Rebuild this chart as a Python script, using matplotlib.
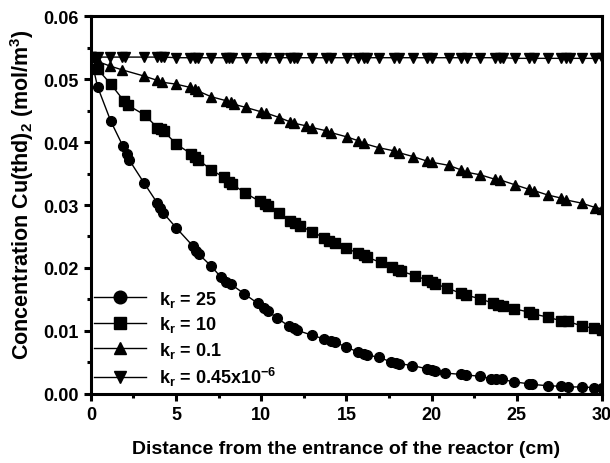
import matplotlib
matplotlib.use('Agg')
import matplotlib.pyplot as plt
from matplotlib.ticker import MultipleLocator

plt.rcParams['font.family'] = ['Liberation Sans', 'DejaVu Sans']
plt.rcParams['font.weight'] = 'bold'
plt.rcParams['mathtext.fontset'] = 'custom'
plt.rcParams['mathtext.rm'] = 'Liberation Sans:bold'
plt.rcParams['mathtext.it'] = 'Liberation Sans:bold'
plt.rcParams['mathtext.bf'] = 'Liberation Sans:bold'
plt.rcParams['mathtext.default'] = 'rm'

# k_r = 25
x_25 = [0, 0.39, 1.17, 1.89, 2.09, 2.24, 3.12, 3.9, 4.04, 4.23, 5.0, 5.98, 6.18, 6.33,
        7.06, 7.64, 7.94, 8.23, 9.0, 9.78, 10.18, 10.37, 10.9, 11.6, 11.9, 12.1, 13.0,
        13.7, 14.1, 14.3, 14.95, 15.7, 16.0, 16.2, 16.9, 17.6, 17.9, 18.1, 18.85, 19.7,
        20.0, 20.2, 20.8, 21.7, 22.0, 22.85, 23.5, 23.8, 24.1, 24.85, 25.7, 25.9, 26.8,
        27.6, 28.0, 28.8, 29.5, 30.0]
c_25 = [0.0535, 0.0488, 0.0433, 0.0393, 0.0381, 0.0372, 0.0335, 0.0303, 0.0296, 0.0288,
        0.0264, 0.0235, 0.0227, 0.0222, 0.0203, 0.0185, 0.0178, 0.0174, 0.0159, 0.0144,
        0.0136, 0.0132, 0.0121, 0.0108, 0.0104, 0.0101, 0.0093, 0.0087, 0.0084, 0.0082,
        0.0075, 0.0066, 0.0063, 0.0062, 0.0058, 0.0051, 0.0049, 0.0048, 0.0045, 0.0040,
        0.0038, 0.0037, 0.0033, 0.0031, 0.0030, 0.0028, 0.0024, 0.0023, 0.0023, 0.0019,
        0.0016, 0.0015, 0.0013, 0.0012, 0.0011, 0.0011, 0.0010, 0.0009]

# k_r = 10
x_10 = [0, 0.39, 1.17, 1.95, 2.15, 3.16, 3.9, 4.09, 4.29, 5.0, 5.9, 6.1, 6.3, 7.06, 7.8,
        8.1, 8.3, 9.06, 9.9, 10.2, 10.4, 11.05, 11.7, 12.0, 12.3, 13.0, 13.7, 14.0, 14.3,
        14.95, 15.7, 16.0, 16.2, 17.0, 17.7, 18.0, 18.2, 19.0, 19.7, 20.0, 20.2, 20.9,
        21.7, 22.0, 22.85, 23.6, 23.9, 24.2, 24.85, 25.7, 25.96, 26.8, 27.6, 28.0, 28.8,
        29.5, 30.0]
c_10 = [0.0535, 0.0516, 0.0492, 0.0465, 0.0459, 0.0443, 0.0423, 0.0420, 0.0417, 0.0397,
        0.0381, 0.0376, 0.0372, 0.0356, 0.0344, 0.0337, 0.0333, 0.0319, 0.0306, 0.0302,
        0.0299, 0.0287, 0.0275, 0.0271, 0.0267, 0.0257, 0.0248, 0.0243, 0.0239, 0.0232,
        0.0223, 0.0220, 0.0217, 0.0209, 0.0201, 0.0197, 0.0195, 0.0188, 0.0181, 0.0177,
        0.0175, 0.0168, 0.0160, 0.0157, 0.0151, 0.0144, 0.0141, 0.0140, 0.0135, 0.0130,
        0.0127, 0.0122, 0.0116, 0.0115, 0.0108, 0.0104, 0.0101]

# k_r = 0.1
x_01 = [0, 0.4, 1.1, 1.8, 3.1, 3.9, 4.2, 5.0, 5.8, 6.1, 6.3, 7.06, 7.9, 8.2, 8.4, 9.1,
        10.0, 10.3, 11.05, 11.7, 11.9, 12.6, 13.0, 13.8, 14.1, 15.05, 15.7, 16.0, 16.9,
        17.8, 18.1, 18.9, 19.7, 20.0, 21.0, 21.7, 22.06, 22.85, 23.7, 24.0, 24.9, 25.7,
        26.0, 26.8, 27.6, 27.9, 28.8, 29.6, 30.0]
c_01 = [0.0535, 0.0528, 0.0521, 0.0515, 0.0505, 0.0498, 0.0495, 0.0492, 0.0487, 0.0484,
        0.0481, 0.0472, 0.0466, 0.0463, 0.0460, 0.0455, 0.0448, 0.0446, 0.0439, 0.0432,
        0.0430, 0.0426, 0.0423, 0.0418, 0.0415, 0.0408, 0.0402, 0.0398, 0.0391, 0.0386,
        0.0383, 0.0377, 0.0370, 0.0368, 0.0363, 0.0356, 0.0352, 0.0348, 0.0341, 0.0340,
        0.0332, 0.0325, 0.0323, 0.0316, 0.0311, 0.0308, 0.0303, 0.0296, 0.0294]

# k_r = 0.45e-6
x_0 = [0, 0.4, 1.1, 1.8, 2.0, 3.1, 3.9, 4.1, 4.3, 5.0, 5.8, 6.1, 6.3, 7.06, 7.9, 8.1,
       8.3, 9.1, 10.0, 10.3, 11.05, 11.7, 11.9, 12.1, 13.0, 13.8, 14.1, 15.05, 15.7, 16.0,
       16.2, 16.9, 17.8, 18.1, 18.9, 19.7, 20.0, 21.0, 21.7, 22.06, 22.85, 23.7, 24.0,
       24.2, 24.9, 25.7, 26.0, 26.8, 27.6, 27.9, 28.1, 28.8, 29.6, 30.0]
c_0 = [0.0535, 0.0535, 0.0535, 0.0535, 0.0535, 0.0535, 0.0535, 0.0535, 0.0535, 0.0534,
       0.0534, 0.0534, 0.0534, 0.0534, 0.0534, 0.0534, 0.0534, 0.0534, 0.0534, 0.0534,
       0.0534, 0.0534, 0.0534, 0.0534, 0.0534, 0.0534, 0.0534, 0.0534, 0.0534, 0.0534,
       0.0534, 0.0534, 0.0534, 0.0534, 0.0534, 0.0534, 0.0534, 0.0534, 0.0534, 0.0534,
       0.0534, 0.0534, 0.0534, 0.0534, 0.0533, 0.0533, 0.0533, 0.0533, 0.0533, 0.0533,
       0.0533, 0.0533, 0.0533, 0.0533]

series = [
    (x_25, c_25, 'o', 'k$_r$ = 25'),
    (x_10, c_10, 's', 'k$_r$ = 10'),
    (x_01, c_01, '^', 'k$_r$ = 0.1'),
    (x_0, c_0, 'v', 'k$_r$ = 0.45x10$^{-6}$'),
]

fig = plt.figure(figsize=(6.1, 4.64), dpi=100)
ax = fig.add_axes([0.149, 0.149, 0.838, 0.814])

for xs, ys, mk, lab in series:
    ax.plot(xs, ys, color='black', lw=1.0, marker=mk, ms=7, label=lab)

ax.set_xlim(0, 30)
ax.set_ylim(0, 0.06)
ax.xaxis.set_major_locator(MultipleLocator(5))
ax.xaxis.set_minor_locator(MultipleLocator(2.5))
ax.yaxis.set_minor_locator(MultipleLocator(0.005))
ax.set_yticks([0, 0.01, 0.02, 0.03, 0.04, 0.05, 0.06])
ax.set_yticklabels(['0.00', '0.01', '0.02', '0.03', '0.04', '0.05', '0.06'])

for s in ax.spines.values():
    s.set_linewidth(2.2)
ax.tick_params(which='major', direction='out', length=5, width=2.2, labelsize=13, pad=4)
ax.tick_params(which='minor', direction='out', length=3, width=2.2)

ax.set_xlabel('Distance from the entrance of the reactor (cm)', fontsize=14,
              fontweight='bold', labelpad=12)
ax.set_ylabel('Concentration Cu(thd)$_2$ (mol/m$^3$)', fontsize=15.5,
              fontweight='bold')
ax.yaxis.set_label_coords(-0.108, 0.53)

ax.legend(loc='lower left', frameon=False, fontsize=13, handlelength=2.9,
          borderaxespad=0.0, borderpad=0.15, labelspacing=0.3, handletextpad=0.7,
          markerscale=1.3, bbox_to_anchor=(0.0, 0.008))

fig.savefig('out.png', dpi=100)
